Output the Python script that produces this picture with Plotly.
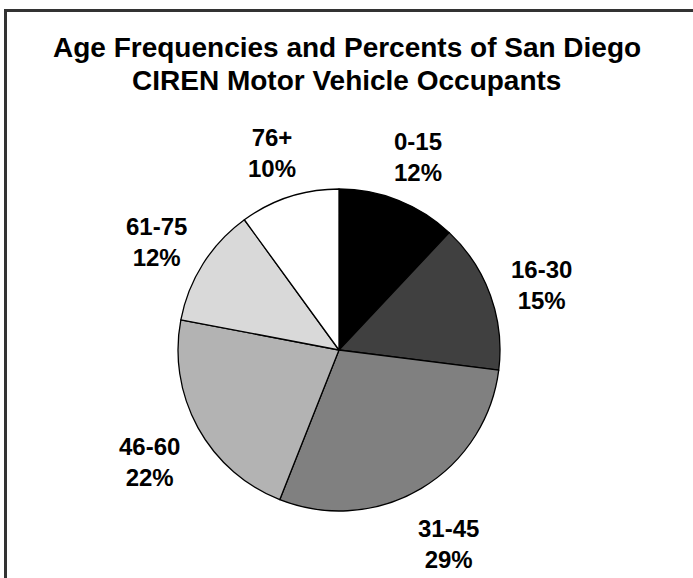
import math
import plotly.graph_objects as go

# ---- data ----
age_groups = ["0-15", "16-30", "31-45", "46-60", "61-75", "76+"]
percents = [12, 15, 29, 22, 12, 10]
slice_colors = ["#000000", "#404040", "#808080", "#b3b3b3", "#d9d9d9", "#ffffff"]
title_lines = ["Age Frequencies and Percents of San Diego",
               "CIREN Motor Vehicle Occupants"]

# ---- layout constants ----
W, H = 693, 578
dom_x = [178 / W, 500 / W]
dom_y = [67 / H, 389 / H]
FONT = "Liberation Sans, Arial, sans-serif"
label_radius_factor = 1.34
label_dy_px = 8  # labels sit slightly below their radial position

fig = go.Figure(go.Pie(
    labels=age_groups,
    values=percents,
    sort=False,
    direction="clockwise",
    rotation=0,
    marker=dict(colors=slice_colors, line=dict(color="#000000", width=1.3)),
    textinfo="none",
    hoverinfo="label+percent",
    showlegend=False,
    domain=dict(x=dom_x, y=dom_y),
))

# pie geometry in pixels (derived from domain)
cx = (dom_x[0] + dom_x[1]) / 2 * W
cy = (1 - (dom_y[0] + dom_y[1]) / 2) * H
r = min((dom_x[1] - dom_x[0]) * W, (dom_y[1] - dom_y[0]) * H) / 2

total = sum(percents)
annotations = []
cum = 0
for lab, v in zip(age_groups, percents):
    mid = (cum + v / 2) / total * 2 * math.pi
    cum += v
    D = r * label_radius_factor
    px = cx + D * math.sin(mid)
    py = cy - D * math.cos(mid) + label_dy_px
    annotations.append(dict(
        x=px / W, y=1 - py / H, xref="paper", yref="paper",
        text=f"<b>{lab}<br>{round(v / total * 100)}%</b>",
        showarrow=False, xanchor="center", yanchor="middle",
        font=dict(family=FONT, size=24, color="#000000"),
    ))

title_y_px = [48, 80]
for line, ty in zip(title_lines, title_y_px):
    annotations.append(dict(
        x=0.5, y=1 - ty / H, xref="paper", yref="paper",
        text=f"<b>{line}</b>", showarrow=False,
        xanchor="center", yanchor="middle",
        font=dict(family=FONT, size=28, color="#000000"),
    ))

shapes = [
    dict(type="line", xref="paper", yref="paper",
         x0=4 / W, x1=1, y0=1 - 10.5 / H, y1=1 - 10.5 / H,
         line=dict(color="#333333", width=3)),
    dict(type="line", xref="paper", yref="paper",
         x0=5.5 / W, x1=5.5 / W, y0=1 - 9 / H, y1=0,
         line=dict(color="#333333", width=3)),
]

fig.update_layout(
    width=W, height=H,
    margin=dict(l=0, r=0, t=0, b=0),
    paper_bgcolor="#ffffff",
    plot_bgcolor="#ffffff",
    annotations=annotations,
    shapes=shapes,
)

fig.write_html(
    "out.html",
    config={"displayModeBar": False},
    post_script="document.body.style.margin='0';document.body.style.overflow='hidden';",
)
